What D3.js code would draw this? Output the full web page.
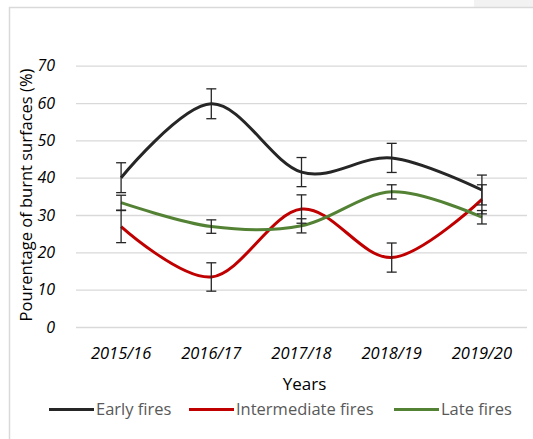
<!DOCTYPE html>
<html>
<head>
<meta charset="utf-8">
<script src="https://cdn.jsdelivr.net/npm/d3@7"></script>
<style>
  body { margin: 0; background: #fff; }
  svg text { font-family: "Open Sans", sans-serif; }
</style>
</head>
<body>
<div id="chart"></div>
<script>
// data
const years = ["2015/16", "2016/17", "2017/18", "2018/19", "2019/20"];
const earlyFires = [40.0, 59.8, 41.5, 45.3, 36.7];
const earlyErr = [4.0, 4.0, 3.9, 3.9, 4.0];
const intermediateFires = [26.9, 13.4, 31.6, 18.6, 34.2];
const intermediateErr = [4.3, 3.8, 3.8, 3.9, 3.9];
const lateFires = [33.3, 26.9, 27.1, 36.2, 29.4];
const lateErr = [2.0, 1.8, 1.9, 1.9, 1.8];
const yTicks = [0, 10, 20, 30, 40, 50, 60, 70];

const series = [
  { name: "Early fires", values: earlyFires, err: earlyErr, color: "#262626" },
  { name: "Intermediate fires", values: intermediateFires, err: intermediateErr, color: "#c00000" },
  { name: "Late fires", values: lateFires, err: lateErr, color: "#548235" }
];

const w = 533, h = 439;
const mg = { left: 76, right: 6, top: 65.7, bottom: 112 };

const svg = d3.select("#chart").append("svg")
  .attr("width", w)
  .attr("height", h);

// outer frame, like the copied chart area
svg.append("rect")
  .attr("x", 474).attr("y", 0)
  .attr("width", 59).attr("height", 7)
  .style("fill", "#f2f2f2");
svg.append("path")
  .attr("d", `M9.5,${h} V7.5 H${w}`)
  .style("fill", "none")
  .style("stroke", "#d9d9d9")
  .style("stroke-width", 1.5);

const x = d3.scaleBand()
  .domain(years)
  .range([mg.left, w - mg.right]);

const y = d3.scaleLinear()
  .domain([0, 70])
  .range([h - mg.bottom, mg.top]);

const cx = (i) => x(years[i]) + x.bandwidth() / 2;

// gridlines
svg.append("g")
  .attr("transform", `translate(${mg.left},0)`)
  .call(d3.axisLeft(y).tickValues(yTicks).tickSize(-(w - mg.right - mg.left)).tickFormat(""))
  .call(g => g.select(".domain").remove())
  .call(g => g.selectAll("line").style("stroke", "#d9d9d9").style("stroke-width", 1.3));

// y tick labels
svg.append("g").selectAll("text")
  .data(yTicks)
  .enter().append("text")
  .attr("x", 55)
  .attr("y", d => y(d))
  .attr("dy", "0.35em")
  .style("text-anchor", "end")
  .style("font-style", "italic")
  .style("font-size", "16px")
  .style("fill", "#000")
  .text(d => d);

// x tick labels
svg.append("g").selectAll("text")
  .data(years)
  .enter().append("text")
  .attr("x", d => x(d) + x.bandwidth() / 2)
  .attr("y", 359)
  .style("text-anchor", "middle")
  .style("font-style", "italic")
  .style("font-size", "16.5px")
  .style("fill", "#000")
  .text(d => d);

// axis titles
svg.append("text")
  .attr("x", (mg.left + w - mg.right) / 2 + 3)
  .attr("y", 390)
  .style("text-anchor", "middle")
  .style("font-size", "17px")
  .style("fill", "#000")
  .text("Years");

svg.append("text")
  .attr("transform", `translate(32,${195}) rotate(-90)`)
  .style("text-anchor", "middle")
  .style("font-size", "16.5px")
  .style("fill", "#000")
  .text("Pourentage of burnt surfaces (%)");

// smoothed lines (Excel style)
const line = d3.line()
  .x((d, i) => cx(i))
  .y(d => y(d))
  .curve(d3.curveCatmullRom.alpha(0));

svg.append("g").selectAll("path")
  .data(series)
  .enter().append("path")
  .attr("d", d => line(d.values))
  .style("fill", "none")
  .style("stroke", d => d.color)
  .style("stroke-width", 3);

// error bars
const capW = 5;
series.forEach(s => {
  const eb = svg.append("g")
    .style("stroke", "#262626")
    .style("stroke-width", 1.3)
    .style("fill", "none");

  eb.selectAll(".stem")
    .data(s.values)
    .enter().append("line")
    .attr("class", "stem")
    .attr("x1", (d, i) => cx(i)).attr("x2", (d, i) => cx(i))
    .attr("y1", (d, i) => y(d + s.err[i]))
    .attr("y2", (d, i) => y(d - s.err[i]));

  [1, -1].forEach(sign => {
    eb.selectAll(".cap" + sign)
      .data(s.values)
      .enter().append("line")
      .attr("x1", (d, i) => cx(i) - capW).attr("x2", (d, i) => cx(i) + capW)
      .attr("y1", (d, i) => y(d + sign * s.err[i]))
      .attr("y2", (d, i) => y(d + sign * s.err[i]));
  });
});

// legend
const legendItems = [
  { x: 49, tx: 96 },
  { x: 189, tx: 236 },
  { x: 394, tx: 441 }
];
const legend = svg.append("g").selectAll("g")
  .data(series)
  .enter().append("g");

legend.append("line")
  .attr("x1", (d, i) => legendItems[i].x)
  .attr("x2", (d, i) => legendItems[i].x + 45)
  .attr("y1", 409.5).attr("y2", 409.5)
  .style("stroke", d => d.color)
  .style("stroke-width", 3);

legend.append("text")
  .attr("x", (d, i) => legendItems[i].tx)
  .attr("y", 409.5)
  .attr("dy", "0.35em")
  .style("font-size", "16.5px")
  .style("fill", "#595959")
  .text(d => d.name);
</script>
</body>
</html>
